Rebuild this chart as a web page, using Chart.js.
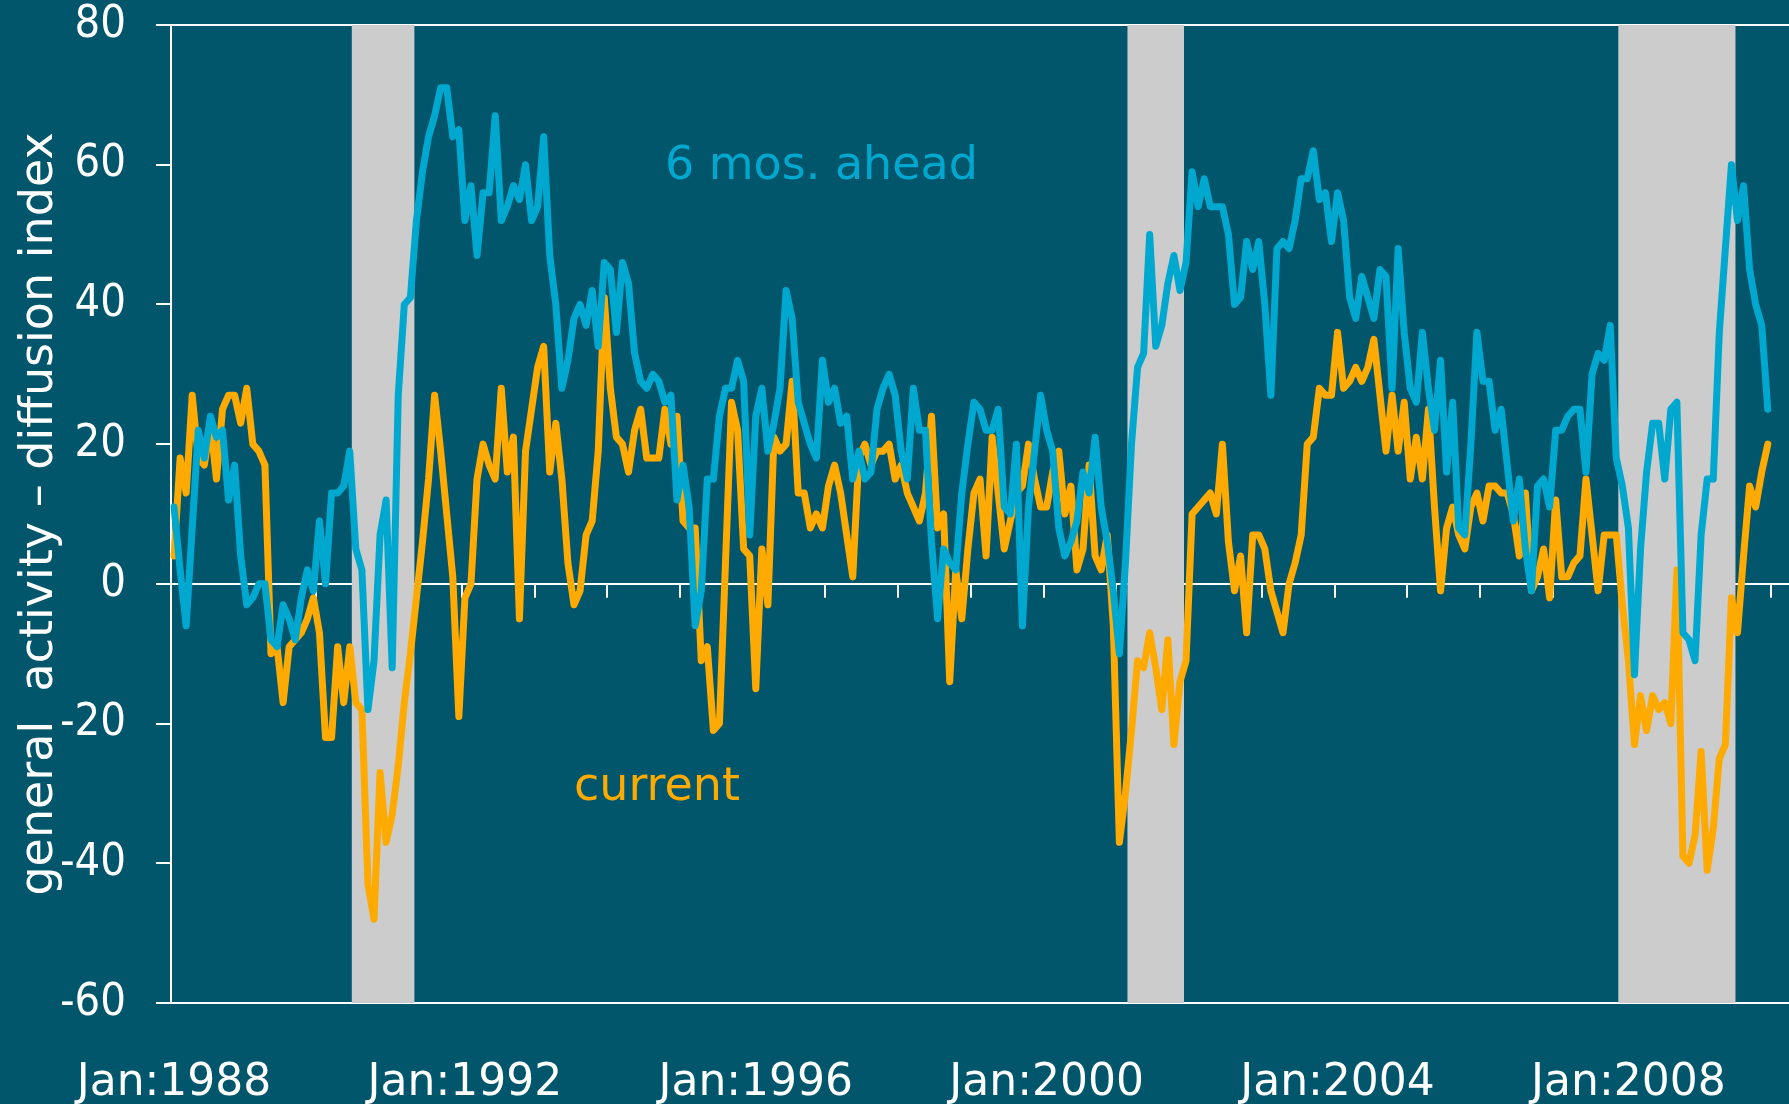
<!DOCTYPE html>
<html>
<head>
<meta charset="utf-8">
<script src="https://cdn.jsdelivr.net/npm/chart.js@4/dist/chart.umd.min.js"></script>
<style>
  html, body { margin: 0; padding: 0; background: #01566b; }
  canvas { display: block; }
</style>
</head>
<body>
<canvas id="chart" width="1789" height="1104"></canvas>
<script>
// monthly categories, Jan:1988 .. Mar:2010
const monthNames = ["Jan", "Feb", "Mar", "Apr", "May", "Jun", "Jul", "Aug", "Sep", "Oct", "Nov", "Dec"];
const categories = [];
for (let i = 0; i < 267; i++) {
    categories.push(monthNames[i % 12] + ":" + (1988 + Math.floor(i / 12)));
}
const xTickLabels = ["Jan:1988", "Jan:1992", "Jan:1996", "Jan:2000", "Jan:2004", "Jan:2008"];
const yTitle = "general  activity \u2013 diffusion index";

// recession shading (first and last month)
const recessions = [["Jul:1990", "Apr:1991"], ["Mar:2001", "Nov:2001"], ["Dec:2007", "Jun:2009"]];

// current general activity, one row per year
const current = [
    4, 18, 13, 27, 18, 17, 23, 15, 25, 27, 27, 23,
    28, 20, 19, 17, -10, -9, -17, -9, -8, -7, -5, -2,
    -7, -22, -22, -9, -17, -9, -17, -18, -43, -48, -27, -37,
    -33, -26, -17, -10, -2, 6, 15, 27, 19, 10, 1, -19,
    -2, 0, 15, 20, 17, 15, 28, 16, 21, -5, 19, 25,
    31, 34, 16, 23, 15, 3, -3, -1, 7, 9, 19, 41,
    28, 21, 20, 16, 22, 25, 18, 18, 18, 25, 20, 24,
    9, 8, 8, -11, -9, -21, -20, 3, 26, 22, 5, 4,
    -15, 5, -3, 21, 19, 20, 29, 13, 13, 8, 10, 8,
    14, 17, 13, 7, 1, 18, 20, 17, 19, 19, 20, 15,
    17, 13, 11, 9, 13, 24, 8, 10, -14, 2, -5, 5,
    13, 15, 4, 21, 13, 5, 9, 13, 14, 20, 15, 11,
    11, 16, 19, 10, 14, 2, 5, 17, 4, 2, 7, -6,
    -37, -30, -21, -11, -12, -7, -12, -18, -8, -23, -14, -11,
    10, 11, 12, 13, 10, 20, 6, -1, 4, -7, 7, 7,
    5, -1, -4, -7, 0, 3, 7, 20, 21, 28, 27, 27,
    36, 28, 29, 31, 29, 31, 35, 27, 19, 27, 19, 26,
    15, 21, 15, 25, 11, -1, 8, 11, 7, 5, 11, 13,
    9, 14, 14, 13, 13, 10, 4, 13, -1, 1, 5, -2,
    12, 1, 1, 3, 4, 15, 7, -1, 7, 7, 7, -3,
    -11, -23, -16, -21, -16, -18, -17, -20, 2, -39, -40, -36,
    -24, -41, -35, -25, -23, -2, -7, 4, 14, 11, 16, 20
];

// future general activity (6 months ahead)
const ahead = [
    11, 2, -6, 8, 22, 18, 24, 21, 22, 12, 17, 4,
    -3, -2, 0, 0, -8, -9, -3, -5, -8, -2, 2, -1,
    9, 0, 13, 13, 14, 19, 5, 2, -18, -11, 7, 12,
    -12, 27, 40, 41, 52, 59, 64, 67, 71, 71, 64, 65,
    52, 57, 47, 56, 56, 67, 52, 54, 57, 55, 60, 52,
    54, 64, 47, 40, 28, 32, 38, 40, 37, 42, 34, 46,
    45, 36, 46, 43, 33, 29, 28, 30, 29, 26, 27, 12,
    17, 11, -6, -1, 15, 15, 24, 28, 28, 32, 29, 7,
    24, 28, 19, 23, 28, 42, 38, 26, 23, 20, 18, 32,
    26, 28, 23, 24, 15, 19, 15, 16, 25, 28, 30, 27,
    19, 15, 28, 22, 22, 6, -5, 5, 3, 2, 13, 20,
    26, 25, 22, 22, 25, 11, 10, 20, -6, 11, 19, 27,
    22, 19, 8, 4, 6, 9, 16, 13, 21, 11, 6, -1,
    -10, 3, 20, 31, 33, 50, 34, 37, 43, 47, 42, 46,
    59, 54, 58, 54, 54, 54, 50, 40, 41, 49, 45, 49,
    40, 27, 48, 49, 48, 52, 58, 58, 62, 55, 56, 49,
    56, 52, 41, 38, 44, 41, 38, 45, 44, 28, 48, 36,
    28, 26, 36, 28, 22, 32, 16, 26, 8, 7, 20, 36,
    29, 29, 22, 25, 17, 9, 15, 5, -1, 14, 15, 11,
    22, 22, 24, 25, 25, 16, 30, 33, 32, 37, 18, 14,
    8, -13, 5, 16, 23, 23, 15, 25, 26, -7, -8, -11,
    7, 15, 15, 36, 48, 60, 52, 57, 45, 40, 37, 25
];

const blue = "#00a8cf";
const orange = "#ffaa00";
const yMin = -60, yMax = 80;

// in-line series labels, placed at a category and a value
const seriesNotes = [
    { text: "6 mos. ahead", at: "Oct:1994", value: 58, color: blue },
    { text: "current", at: "Jul:1993", value: -31, color: orange }
];

// full-height bar for every month inside a recession
const bandData = categories.map((c, i) => {
    const inside = recessions.some(r => i >= categories.indexOf(r[0]) && i <= categories.indexOf(r[1]));
    return inside ? [yMin, yMax] : null;
});

// small tick marks hanging under the zero line at each January
const zeroTicks = {
    id: "zeroTicks",
    beforeDatasetsDraw(chart) {
        const x = chart.scales.x, y = chart.scales.y, ctx = chart.ctx;
        const y0 = y.getPixelForValue(0);
        const half = (x.getPixelForValue(1) - x.getPixelForValue(0)) / 2;
        ctx.save();
        ctx.strokeStyle = "#ffffff";
        ctx.lineWidth = 2;
        categories.forEach((c, i) => {
            if (i === 0 || i % 12 !== 0) return;
            const px = Math.round(x.getPixelForValue(i) - half);
            ctx.beginPath();
            ctx.moveTo(px, y0);
            ctx.lineTo(px, y0 + 14);
            ctx.stroke();
        });
        ctx.restore();
    }
};

const notes = {
    id: "notes",
    afterDatasetsDraw(chart) {
        const x = chart.scales.x, y = chart.scales.y, ctx = chart.ctx;
        ctx.save();
        ctx.font = "46px 'DejaVu Sans'";
        ctx.textAlign = "left";
        ctx.textBaseline = "alphabetic";
        seriesNotes.forEach(n => {
            ctx.fillStyle = n.color;
            ctx.fillText(n.text, x.getPixelForValue(categories.indexOf(n.at)), y.getPixelForValue(n.value));
        });
        ctx.restore();
    }
};

new Chart(document.getElementById("chart"), {
    type: "line",
    data: {
        labels: categories,
        datasets: [
            {
                label: "6 mos. ahead",
                data: ahead,
                borderColor: blue,
                borderWidth: 7,
                pointRadius: 0,
                tension: 0,
                borderJoinStyle: "round",
                borderCapStyle: "round",
                order: 1
            },
            {
                label: "current",
                data: current,
                borderColor: orange,
                borderWidth: 7,
                pointRadius: 0,
                tension: 0,
                borderJoinStyle: "round",
                borderCapStyle: "round",
                order: 2
            },
            {
                type: "bar",
                label: "recession",
                data: bandData,
                backgroundColor: "#cccccc",
                borderWidth: 0,
                barPercentage: 1,
                categoryPercentage: 1,
                inflateAmount: 1,
                order: 3
            }
        ]
    },
    options: {
        responsive: false,
        animation: false,
        devicePixelRatio: 1,
        layout: { padding: { top: 25, right: 0, bottom: 0, left: 0 } },
        plugins: {
            legend: { display: false },
            tooltip: { enabled: false }
        },
        scales: {
            x: {
                type: "category",
                offset: true,
                grid: { display: false, drawTicks: false, offset: true },
                border: { display: false },
                ticks: {
                    autoSkip: false,
                    maxRotation: 0,
                    minRotation: 0,
                    color: "#ffffff",
                    font: { family: "DejaVu Sans", size: 44 },
                    padding: 54,
                    callback(value) {
                        const label = this.getLabelForValue(value);
                        return xTickLabels.includes(label) ? label : null;
                    }
                },
                afterFit(scale) {
                    scale.height = 101;
                    scale.paddingLeft = 0;
                    scale.paddingRight = 0;
                }
            },
            y: {
                min: yMin,
                max: yMax,
                ticks: {
                    stepSize: 20,
                    color: "#ffffff",
                    font: { family: "DejaVu Sans Condensed", size: 45 },
                    padding: 30
                },
                grid: {
                    color: ctx => (ctx.tick && [yMin, 0, yMax].includes(ctx.tick.value)) ? "#ffffff" : "rgba(0,0,0,0)",
                    lineWidth: 2,
                    drawTicks: true,
                    tickLength: 15,
                    tickColor: "#ffffff",
                    tickWidth: 2
                },
                border: { color: "#ffffff", width: 2 },
                title: {
                    display: true,
                    text: yTitle,
                    color: "#ffffff",
                    font: { family: "DejaVu Sans", size: 46 },
                    padding: { top: 12, bottom: 0 }
                },
                afterFit(scale) {
                    scale.width = 171;
                    scale.paddingTop = 0;
                    scale.paddingBottom = 0;
                }
            }
        }
    },
    plugins: [zeroTicks, notes]
});
</script>
</body>
</html>
